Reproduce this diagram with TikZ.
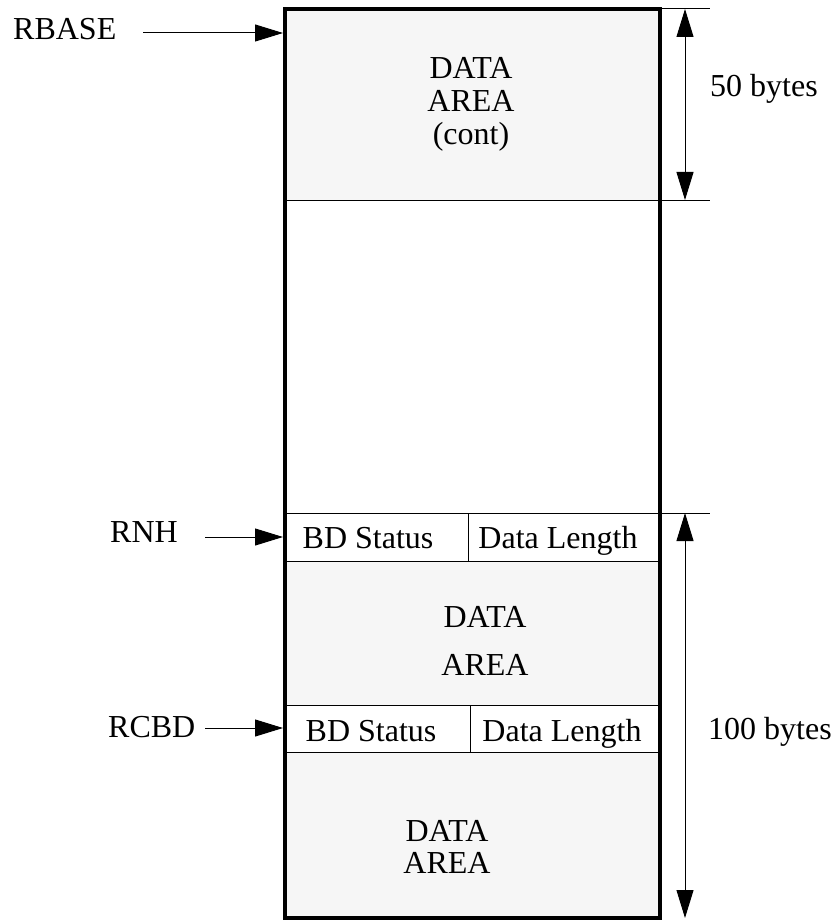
\documentclass[tikz,border=0pt]{standalone}
\usepackage{fontspec}
\setmainfont{Liberation Serif}
\usetikzlibrary{arrows.meta}
\definecolor{areagray}{RGB}{246,246,246}
\newcommand{\drawthick}{\draw[line width=4pt]}
\newcommand{\drawthin}{\draw[line width=1pt]}
\tikzset{
  memtext/.style={font=\fontsize{32}{33}\selectfont, align=center, inner sep=0pt, anchor=base},
  pointer/.style={line width=1pt, -{Triangle[length=28pt,width=17pt]}},
  dimline/.style={line width=1pt, {Triangle[length=28pt,width=17pt]}-{Triangle[length=28pt,width=17pt]}},
}

\begin{document}
\begin{tikzpicture}[x=1pt,y=-1pt]
\useasboundingbox (0,0) rectangle (835,920);
% shaded data areas
\fill[areagray] (285,9) rectangle (660,200);
\fill[areagray] (285,561) rectangle (660,705);
\fill[areagray] (285,752) rectangle (660,918);
% row lines and extension lines
\drawthin (285,200)--(710,200);
\drawthin (660,9)--(710,9);
\drawthin (285,513)--(710,513);
\drawthin (285,561)--(660,561);
\drawthin (285,705)--(660,705);
\drawthin (285,752)--(660,752);
\drawthin (468,513)--(468,561);
\drawthin (470,705)--(470,752);
\drawthick (285,9) rectangle (660,918);
% texts in the buffer (base = last line)
\node[memtext] (contarea) at (471,145) {DATA\\AREA\\(cont)};
\node[memtext] (bdstatA) at (368,548) {BD Status};
\node[memtext] (datalenA) at (558,548) {Data Length};
\node[memtext, font=\fontsize{32}{48}\selectfont] (dataarea) at (485,675) {DATA\\AREA};
\node[memtext] (bdstatB) at (371,741) {BD Status};
\node[memtext] (datalenB) at (562,741) {Data Length};
\node[memtext, font=\fontsize{32}{32}\selectfont] (lastarea) at (447,873) {DATA\\AREA};
% pointers
\node[memtext, anchor=base west] (rbase) at (13,40) {RBASE};
\node[memtext, anchor=base west] (rnh) at (110,542) {RNH};
\node[memtext, anchor=base west] (rcbd) at (108,737) {RCBD};
\coordinate (rbasetail) at (143,33);
\coordinate (rbasetip) at (283,33);
\coordinate (rnhtail) at (205,537);
\coordinate (rnhtip) at (283,537);
\coordinate (rcbdtail) at (205,728);
\coordinate (rcbdtip) at (283,728);
\draw[pointer] (rbasetail)--(rbasetip);
\draw[pointer] (rnhtail)--(rnhtip);
\draw[pointer] (rcbdtail)--(rcbdtip);
% sizes
\coordinate (topA) at (685,9);
\coordinate (topB) at (685,200);
\coordinate (lowA) at (685,513);
\coordinate (lowB) at (685,918);
\draw[dimline] (topA)--(topB);
\draw[dimline] (lowA)--(lowB);
\node[memtext, anchor=base west] (fifty) at (710,97) {50 bytes};
\node[memtext, anchor=base west] (hundred) at (708,739) {100 bytes};
\end{tikzpicture}
\end{document}
